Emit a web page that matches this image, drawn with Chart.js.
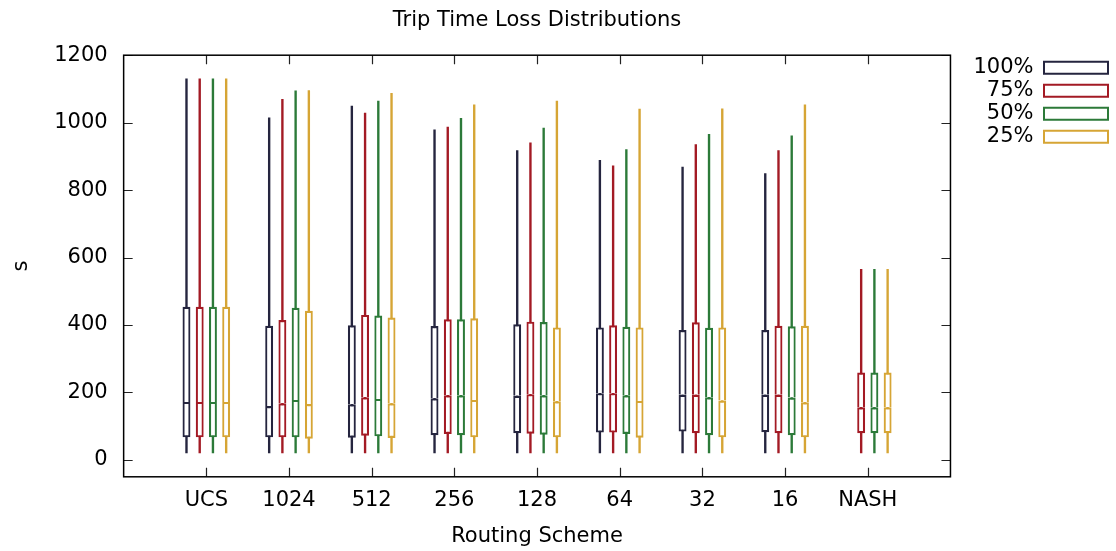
<!DOCTYPE html>
<html>
<head>
<meta charset="utf-8">
<script src="https://cdn.jsdelivr.net/npm/chart.js@4/dist/chart.umd.min.js"></script>
<style>
  html, body { margin: 0; padding: 0; background: #fff; }
  canvas { display: block; }
</style>
</head>
<body>
<canvas id="chart" width="1116" height="551"></canvas>
<script>
// Routing schemes along the x axis and the y tick values
const categories = ['UCS', '1024', '512', '256', '128', '64', '32', '16', 'NASH'];
const seriesNames = ['100%', '75%', '50%', '25%'];
const yTickValues = [0, 200, 400, 600, 800, 1000, 1200];

// 100% series: five-number summary per routing scheme (no NASH box)
const min100 = [20, 20, 20, 20, 20, 20, 20, 20, null];
const q1of100 = [67, 67, 66, 73, 79, 81, 84, 82, null];
const med100 = [172, 160, 165, 183, 190, 198, 193, 193, null];
const q3of100 = [454, 398, 399, 397, 402, 393, 385, 385, null];
const max100 = [1131, 1015, 1050, 980, 918, 889, 869, 850, null];

// 75% series
const min75 = [20, 20, 20, 20, 20, 20, 20, 20, 20];
const q1of75 = [67, 67, 72, 77, 78, 81, 79, 79, 79];
const med75 = [172, 168, 186, 192, 195, 198, 193, 193, 156];
const q3of75 = [454, 415, 430, 417, 410, 399, 408, 398, 259];
const max75 = [1131, 1070, 1029, 988, 941, 873, 936, 918, 566];

// 50% series
const min50 = [20, 20, 20, 20, 20, 20, 20, 20, 20];
const q1of50 = [67, 67, 70, 73, 75, 77, 73, 73, 79];
const med50 = [172, 178, 181, 192, 192, 192, 186, 185, 156];
const q3of50 = [454, 451, 428, 417, 409, 395, 392, 396, 259];
const max50 = [1131, 1095, 1065, 1014, 985, 921, 966, 962, 566];

// 25% series
const min25 = [20, 20, 20, 20, 20, 20, 20, 20, 20];
const q1of25 = [67, 63, 65, 67, 67, 66, 67, 67, 79];
const med25 = [172, 166, 168, 178, 174, 175, 176, 171, 156];
const q3of25 = [454, 442, 422, 420, 393, 393, 393, 398, 259];
const max25 = [1131, 1096, 1088, 1054, 1065, 1041, 1042, 1054, 566];

const seriesColors = ['#25253f', '#a31a24', '#2c7a39', '#d6a535'];

const stats = [
  { min: min100, q1: q1of100, med: med100, q3: q3of100, max: max100 },
  { min: min75, q1: q1of75, med: med75, q3: q3of75, max: max75 },
  { min: min50, q1: q1of50, med: med50, q3: q3of50, max: max50 },
  { min: min25, q1: q1of25, med: med25, q3: q3of25, max: max25 }
];

// Floating bar points [lo, hi] at each category index
function span(lo, hi) {
  return categories
    .map((_, i) => ({ x: i, y: [lo[i], hi[i]] }))
    .filter(p => p.y[0] !== null && p.y[1] !== null);
}

const FONT_SIZE = 21;
const CAT_PCT = 0.64;
const datasets = [];
stats.forEach((s, k) => {
  const color = seriesColors[k];
  const common = { stack: 's' + k, categoryPercentage: CAT_PCT, label: seriesNames[k] };
  // lower half of the box, its top edge is the median line
  datasets.push(Object.assign({}, common, {
    data: span(s.q1, s.med), order: 0,
    backgroundColor: '#ffffff', borderColor: color, borderWidth: 2.2,
    borderSkipped: false, barPercentage: 0.6
  }));
  // upper half of the box
  datasets.push(Object.assign({}, common, {
    data: span(s.med, s.q3), order: 0,
    backgroundColor: '#ffffff', borderColor: color, borderWidth: 2.2,
    borderSkipped: 'bottom', barPercentage: 0.6
  }));
  // whisker from min to max, drawn underneath the box
  datasets.push(Object.assign({}, common, {
    data: span(s.min, s.max), order: 1,
    backgroundColor: color, borderWidth: 0, barPercentage: 0.18
  }));
});

// Full frame with inward tick marks on all four sides
const frameTicks = {
  id: 'frameTicks',
  afterDatasetsDraw(chart) {
    const { ctx, chartArea: a, scales: { x, y } } = chart;
    const len = 9;
    ctx.save();
    ctx.strokeStyle = '#222';
    ctx.lineWidth = 1.2;
    ctx.beginPath();
    y.ticks.forEach((t, i) => {
      const py = Math.round(y.getPixelForTick(i)) + 0.5;
      ctx.moveTo(a.left, py); ctx.lineTo(a.left + len, py);
      ctx.moveTo(a.right, py); ctx.lineTo(a.right - len, py);
    });
    x.ticks.forEach((t, i) => {
      const px = Math.round(x.getPixelForTick(i)) + 0.5;
      ctx.moveTo(px, a.bottom); ctx.lineTo(px, a.bottom - len);
      ctx.moveTo(px, a.top); ctx.lineTo(px, a.top + len);
    });
    ctx.stroke();
    ctx.strokeStyle = '#000';
    ctx.lineWidth = 1.5;
    ctx.strokeRect(a.left, a.top, a.right - a.left, a.bottom - a.top);
    ctx.restore();
  }
};

Chart.defaults.font.family = "'DejaVu Sans', sans-serif";
Chart.defaults.font.size = FONT_SIZE;
Chart.defaults.color = '#000';

new Chart(document.getElementById('chart'), {
  type: 'bar',
  data: { datasets },
  options: {
    responsive: false,
    animation: false,
    devicePixelRatio: 1,
    layout: { padding: { left: 0, right: 6, top: 0, bottom: 0 } },
    plugins: {
      tooltip: { enabled: false },
      title: {
        display: true,
        text: 'Trip Time Loss Distributions',
        fullSize: false,
        font: { size: FONT_SIZE, weight: 'normal' },
        color: '#000',
        padding: { top: 8, bottom: 22 }
      },
      legend: {
        display: true,
        position: 'right',
        align: 'start',
        fullSize: false,
        rtl: true,
        textDirection: 'ltr',
        onClick: null,
        labels: {
          boxWidth: 64,
          boxHeight: 12,
          padding: 2,
          font: { size: FONT_SIZE },
          color: '#000',
          generateLabels: () => seriesNames.map((name, k) => ({
            text: name,
            fillStyle: '#ffffff',
            strokeStyle: seriesColors[k],
            lineWidth: 2,
            hidden: false,
            datasetIndex: k * 3
          }))
        }
      }
    },
    scales: {
      x: {
        type: 'linear',
        min: -1,
        max: 9,
        offset: false,
        stacked: true,
        grid: { display: false, drawTicks: false },
        border: { display: false },
        afterBuildTicks: scale => { scale.ticks = categories.map((_, i) => ({ value: i })); },
        ticks: {
          autoSkip: false,
          maxRotation: 0,
          padding: 13,
          font: { size: FONT_SIZE, lineHeight: 1.0 },
          callback: value => categories[value]
        },
        title: {
          display: true,
          text: 'Routing Scheme',
          font: { size: FONT_SIZE },
          padding: { top: 0, bottom: 2 }
        }
      },
      y: {
        type: 'linear',
        min: -50,
        max: 1200,
        stacked: false,
        grid: { display: false, drawTicks: false },
        border: { display: false },
        afterBuildTicks: scale => { scale.ticks = yTickValues.map(v => ({ value: v })); },
        ticks: {
          padding: 16,
          callback: value => String(value)
        },
        title: {
          display: true,
          text: 's',
          font: { size: FONT_SIZE },
          padding: { top: 9, bottom: 4 }
        }
      },
      gap: {
        type: 'linear',
        position: 'right',
        display: true,
        grid: { display: false, drawTicks: false },
        border: { display: false },
        ticks: { display: false },
        afterFit: scale => { scale.width = 13; }
      }
    }
  },
  plugins: [frameTicks]
});
</script>
</body>
</html>
